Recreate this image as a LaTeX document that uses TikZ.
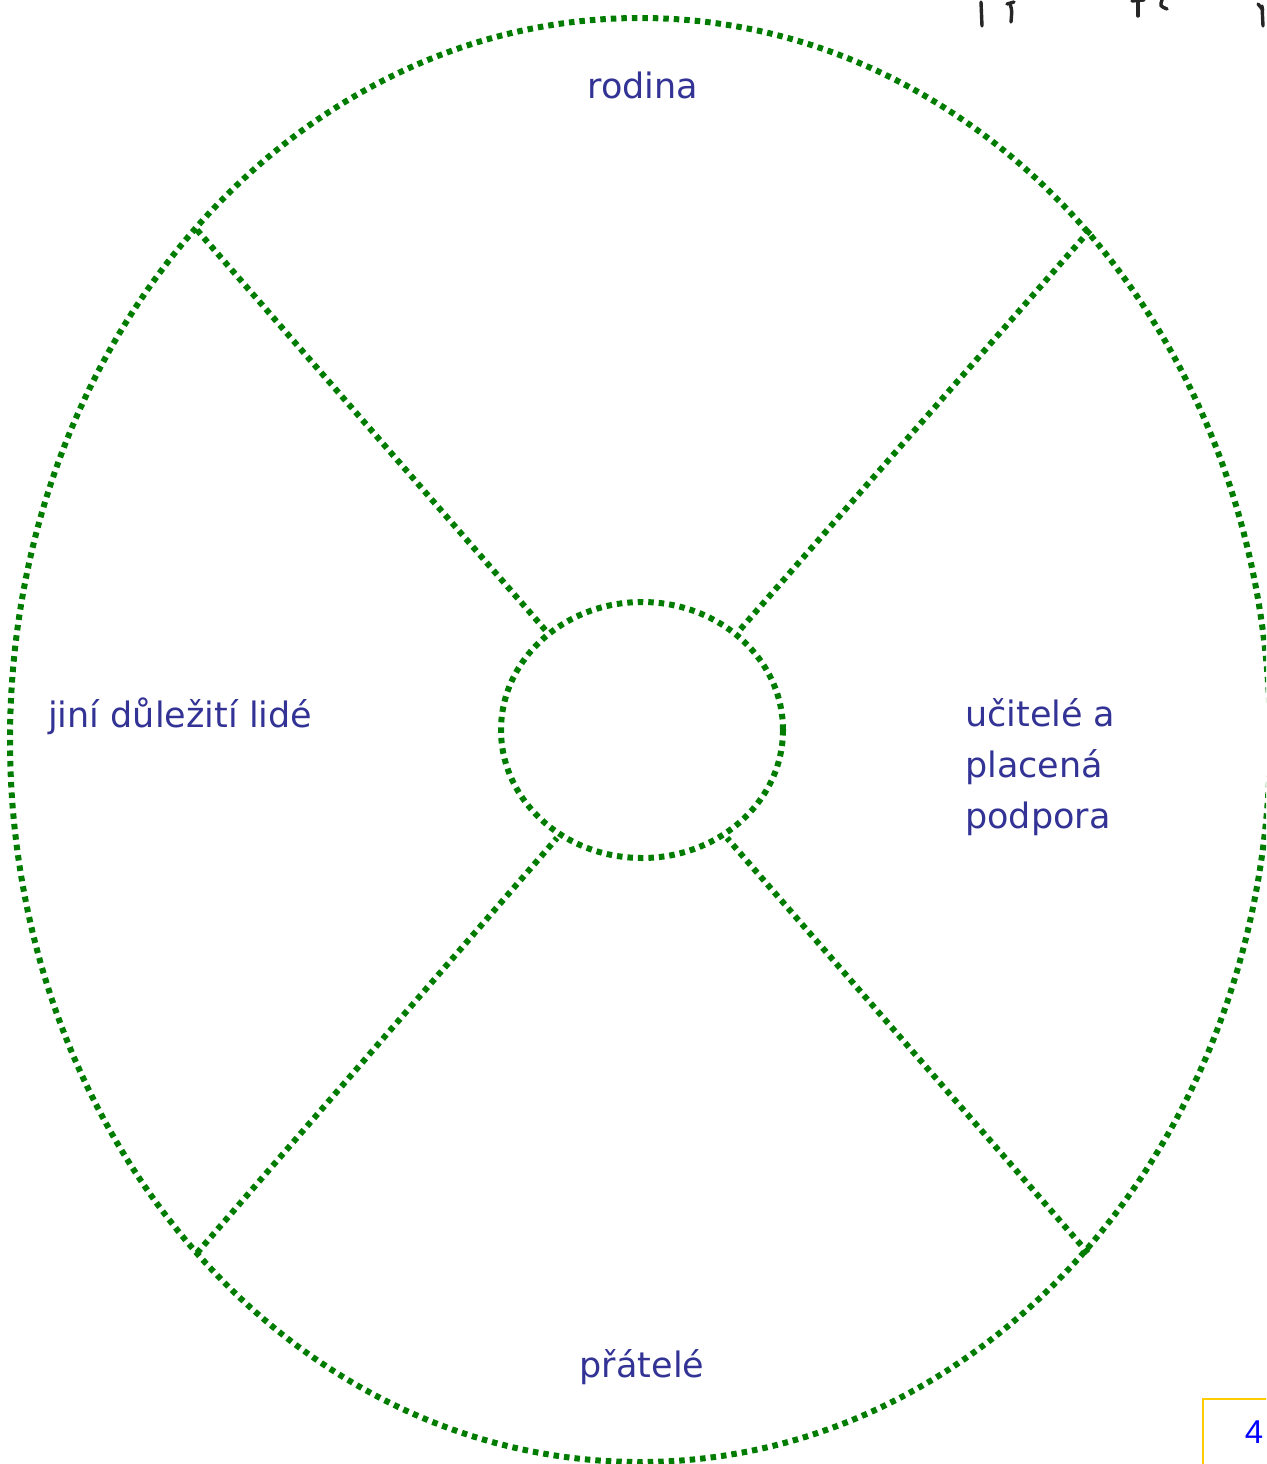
\documentclass[tikz,border=0pt]{standalone}
\usepackage{fontspec}
\setmainfont{DejaVu Sans}
\newfontfamily\numfont{Liberation Sans}
\definecolor{ringgreen}{RGB}{0,125,0}
\definecolor{labelblue}{RGB}{51,51,150}
\definecolor{boxgold}{RGB}{255,204,0}
\begin{document}
\begin{tikzpicture}[x=1pt,y=-1pt,
  dotline/.style={draw=ringgreen, line width=6pt, dash pattern=on 5.5pt off 5pt},
  lbl/.style={text=labelblue, font=\fontsize{35}{51}\selectfont, inner sep=0pt},
  ink/.style={draw=black!85, line width=3.4pt, line cap=round}]
\useasboundingbox (0,0) rectangle (1266,1464);
\clip (0,0) rectangle (1266,1464);
% outer ring and hub
\coordinate (oc) at (640,740);
\coordinate (hc) at (642,730);
\draw[dotline] (oc) ellipse [x radius=630, y radius=722];
\draw[dotline] (hc) ellipse [x radius=141, y radius=128];
% spokes
\coordinate (o1) at (197,230);  \coordinate (i1) at (547,632);
\coordinate (o2) at (1090,230); \coordinate (i2) at (738,632);
\coordinate (o3) at (197,1253); \coordinate (i3) at (557,838);
\coordinate (o4) at (1088,1253);\coordinate (i4) at (727,838);
\draw[dotline] (o1) -- (i1);
\draw[dotline] (o2) -- (i2);
\draw[dotline] (o3) -- (i3);
\draw[dotline] (o4) -- (i4);
% labels
\node[lbl, anchor=base] (rodina) at (643,98) {rodina};
\node[lbl, anchor=base west] (jini) at (48,727) {jiní důležití lidé};
\node[lbl, anchor=north west, align=left] (ucitele) at (965,698) {učitelé a\\placená\\podpora};
\node[lbl, anchor=base] (pratele) at (642,1377) {přátelé};
% page number box
\draw[draw=boxgold, line width=2pt] (1203,1470) -- (1203,1399) -- (1270,1399);
\node[text=blue, font=\numfont\fontsize{33}{36}\selectfont, anchor=base, inner sep=0pt] (pnum) at (1254,1443) {4};
% handwritten marks at the top
\draw[ink] (981,2) -- (982,26);
\draw[ink] (1010,4) .. controls (1012,10) .. (1011,22);
\draw[ink] (1007,4) -- (1014,2);
\draw[ink] (1138,0) -- (1138,16);
\draw[ink] (1132,1) -- (1144,0);
\draw[ink] (1162,0) .. controls (1160,6) .. (1167,9);
\draw[ink] (1262,6) -- (1263,26);
\draw[ink] (1258,4) -- (1263,10);
\end{tikzpicture}
\end{document}
